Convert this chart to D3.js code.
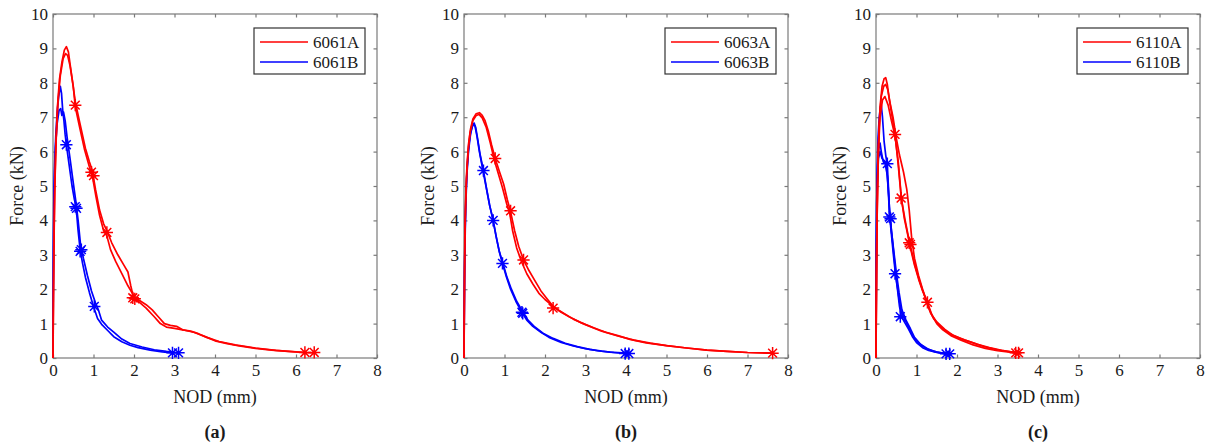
<!DOCTYPE html>
<html lang="en">
  <head>
    <meta charset="UTF-8" />
    <title>Force vs NOD</title>
    <style>
      body { margin: 0; background: #fff; }
      text { font-family: "Liberation Serif", "Times New Roman", serif; fill: #1a1a1a; }
    </style>
  </head>
  <body>
    <svg id="container" width="1215" height="443"></svg>
  </body>
  <script src="https://cdn.jsdelivr.net/npm/d3@7"></script>
  <script>
    // ticks and labels
    const xTicks = [0, 1, 2, 3, 4, 5, 6, 7, 8];
    const yTicks = [0, 1, 2, 3, 4, 5, 6, 7, 8, 9, 10];
    const panelLabels = ["(a)", "(b)", "(c)"];
    const seriesNames = [["6061A", "6061B"], ["6063A", "6063B"], ["6110A", "6110B"]];

    // (a) 6061 curves, [NOD mm, force kN]
    const curves6061A = [
      [[0,0],[0.01,1.5],[0.02,3.2],[0.04,4.8],[0.07,6.2],[0.11,7.3],[0.16,8.1],[0.22,8.6],[0.28,8.95],[0.33,9.05],[0.38,8.9],[0.45,8.3],[0.55,7.45],[0.65,6.9],[0.8,6.1],[0.9,5.7],[0.97,5.45],[1.05,4.9],[1.15,4.3],[1.25,3.9],[1.33,3.7],[1.45,3.35],[1.6,3.0],[1.75,2.7],[1.85,2.5],[1.92,2.1],[1.98,1.8],[2.1,1.7],[2.3,1.55],[2.45,1.4],[2.6,1.2],[2.75,1.0],[2.9,0.95],[3.05,0.92],[3.2,0.82],[3.4,0.78],[3.6,0.7],[3.8,0.6],[4.0,0.5],[4.3,0.42],[4.6,0.35],[5.0,0.28],[5.4,0.23],[5.8,0.19],[6.2,0.16],[6.45,0.15]],
      [[0,0],[0.01,1.8],[0.03,3.8],[0.05,5.2],[0.08,6.4],[0.12,7.4],[0.18,8.2],[0.25,8.7],[0.31,8.85],[0.36,8.8],[0.42,8.5],[0.5,7.9],[0.55,7.3],[0.65,6.75],[0.78,6.05],[0.9,5.55],[0.97,5.3],[1.06,4.7],[1.15,4.15],[1.25,3.7],[1.33,3.55],[1.42,3.15],[1.55,2.8],[1.7,2.45],[1.85,2.1],[2.0,1.8],[2.15,1.6],[2.3,1.45],[2.5,1.2],[2.65,1.0],[2.8,0.9],[3.0,0.86],[3.2,0.82],[3.5,0.74],[3.8,0.6],[4.1,0.48],[4.5,0.38],[5.0,0.29],[5.5,0.22],[6.0,0.18],[6.22,0.16]]
    ];
    const curves6061B = [
      [[0,0],[0.005,1.5],[0.01,3.0],[0.02,4.5],[0.04,5.6],[0.07,6.5],[0.1,7.1],[0.14,7.6],[0.18,7.9],[0.21,7.7],[0.24,7.2],[0.27,6.9],[0.3,6.5],[0.33,6.2],[0.4,5.6],[0.47,5.0],[0.53,4.6],[0.57,4.4],[0.62,3.7],[0.67,3.15],[0.73,2.75],[0.8,2.35],[0.9,1.9],[1.0,1.5],[1.1,1.15],[1.2,0.98],[1.35,0.8],[1.5,0.62],[1.7,0.47],[1.9,0.37],[2.1,0.3],[2.4,0.23],[2.7,0.18],[2.95,0.15]],
      [[0,0],[0.005,1.8],[0.015,3.6],[0.03,5.0],[0.06,6.1],[0.1,6.8],[0.15,7.2],[0.19,7.25],[0.22,7.05],[0.26,7.15],[0.3,6.9],[0.35,6.4],[0.42,5.8],[0.5,5.1],[0.57,4.5],[0.62,4.0],[0.68,3.3],[0.75,2.9],[0.85,2.4],[0.95,1.95],[1.05,1.6],[1.12,1.4],[1.2,1.1],[1.35,0.9],[1.5,0.75],[1.7,0.55],[1.9,0.42],[2.2,0.32],[2.5,0.24],[2.8,0.19],[3.1,0.15]]
    ];
    const stars6061A = [[0.55,7.35],[0.95,5.4],[1.0,5.3],[1.33,3.65],[1.97,1.75],[2.02,1.72],[6.22,0.16],[6.45,0.16]];
    const stars6061B = [[0.33,6.2],[0.55,4.4],[0.58,4.35],[0.67,3.1],[0.7,3.15],[1.02,1.5],[2.95,0.15],[3.1,0.15]];

    // (b) 6063 curves
    const curves6063A = [
      [[0,0],[0.01,2.0],[0.02,3.5],[0.04,4.6],[0.07,5.5],[0.11,6.2],[0.16,6.65],[0.22,6.95],[0.3,7.1],[0.38,7.13],[0.45,7.05],[0.52,6.9],[0.6,6.6],[0.68,6.2],[0.77,5.8],[0.88,5.4],[0.98,5.05],[1.07,4.6],[1.15,4.25],[1.25,3.7],[1.35,3.25],[1.47,2.85],[1.6,2.55],[1.75,2.25],[1.9,1.95],[2.05,1.72],[2.2,1.5],[2.35,1.38],[2.6,1.2],[2.9,1.02],[3.2,0.88],[3.5,0.75],[3.8,0.65],[4.1,0.54],[4.5,0.44],[5.0,0.36],[5.5,0.29],[6.0,0.23],[6.5,0.19],[7.0,0.16],[7.62,0.14]],
      [[0,0],[0.015,2.5],[0.03,4.0],[0.06,5.2],[0.1,6.0],[0.15,6.55],[0.22,6.9],[0.3,7.05],[0.37,7.08],[0.45,6.98],[0.55,6.7],[0.65,6.25],[0.75,5.75],[0.85,5.35],[0.95,4.95],[1.05,4.5],[1.13,4.2],[1.2,3.7],[1.3,3.2],[1.42,2.8],[1.55,2.45],[1.7,2.15],[1.85,1.88],[2.0,1.7],[2.15,1.55],[2.25,1.45],[2.4,1.33],[2.7,1.13],[3.0,0.97],[3.4,0.78],[3.8,0.64],[4.2,0.52],[4.6,0.43],[5.0,0.36],[5.5,0.29],[6.0,0.23],[6.5,0.19],[7.0,0.16],[7.6,0.14]]
    ];
    const curves6063B = [
      [[0,0],[0.008,1.5],[0.02,3.0],[0.04,4.3],[0.07,5.3],[0.11,6.0],[0.16,6.5],[0.21,6.75],[0.25,6.83],[0.29,6.7],[0.34,6.35],[0.4,5.9],[0.48,5.45],[0.56,4.9],[0.64,4.4],[0.72,4.0],[0.8,3.5],[0.88,3.05],[0.95,2.75],[1.05,2.35],[1.15,2.0],[1.28,1.65],[1.43,1.33],[1.55,1.1],[1.7,0.92],[1.9,0.75],[2.1,0.6],[2.4,0.45],[2.7,0.35],[3.0,0.27],[3.3,0.21],[3.6,0.17],[4.0,0.14]],
      [[0,0],[0.01,2.2],[0.025,3.6],[0.05,4.8],[0.08,5.6],[0.12,6.2],[0.17,6.6],[0.22,6.78],[0.27,6.75],[0.32,6.45],[0.38,6.0],[0.46,5.5],[0.55,4.95],[0.63,4.45],[0.71,4.05],[0.79,3.55],[0.87,3.1],[0.95,2.8],[1.06,2.35],[1.17,2.0],[1.3,1.65],[1.45,1.35],[1.58,1.1],[1.75,0.9],[1.95,0.72],[2.2,0.57],[2.5,0.43],[2.8,0.33],[3.1,0.25],[3.4,0.2],[3.7,0.16],[4.07,0.13]]
    ];
    const stars6063A = [[0.77,5.8],[1.15,4.28],[1.47,2.85],[2.2,1.45],[7.62,0.14]];
    const stars6063B = [[0.48,5.45],[0.72,4.0],[0.95,2.75],[1.43,1.33],[1.45,1.3],[3.98,0.13],[4.07,0.13]];

    // (c) 6110 curves
    const curves6110A = [
      [[0,0],[0.01,2.5],[0.03,4.5],[0.06,6.2],[0.1,7.3],[0.15,7.9],[0.2,8.12],[0.24,8.15],[0.28,7.95],[0.33,7.5],[0.4,7.0],[0.47,6.5],[0.55,5.6],[0.62,4.7],[0.7,4.05],[0.78,3.6],[0.85,3.2],[0.95,2.7],[1.05,2.3],[1.15,1.95],[1.27,1.62],[1.38,1.25],[1.5,1.0],[1.65,0.82],[1.85,0.65],[2.1,0.52],[2.4,0.38],[2.7,0.28],[3.0,0.21],[3.3,0.17],[3.45,0.15]],
      [[0,0],[0.015,3.0],[0.04,5.2],[0.08,6.8],[0.13,7.6],[0.19,7.9],[0.24,7.95],[0.29,7.8],[0.35,7.4],[0.42,7.0],[0.5,6.4],[0.58,5.9],[0.68,5.4],[0.76,4.9],[0.82,4.3],[0.88,3.5],[0.95,2.9],[1.05,2.4],[1.15,2.0],[1.25,1.65],[1.35,1.3],[1.5,1.05],[1.7,0.83],[1.9,0.66],[2.2,0.52],[2.5,0.4],[2.8,0.3],[3.1,0.22],[3.52,0.15]],
      [[0,0],[0.02,3.5],[0.05,5.8],[0.1,7.0],[0.16,7.5],[0.22,7.6],[0.3,7.35],[0.38,6.9],[0.47,6.45],[0.55,5.7],[0.63,4.6],[0.72,4.0],[0.83,3.35],[0.95,2.75],[1.07,2.25],[1.2,1.8],[1.3,1.45],[1.42,1.15],[1.6,0.9],[1.8,0.72],[2.1,0.56],[2.4,0.44],[2.7,0.32],[3.0,0.24],[3.48,0.15]]
    ];
    const curves6110B = [
      [[0,0],[0.005,2.0],[0.015,4.0],[0.03,5.5],[0.05,6.4],[0.08,7.0],[0.11,7.3],[0.13,7.35],[0.16,7.0],[0.2,6.3],[0.24,5.9],[0.28,5.6],[0.31,4.9],[0.34,4.1],[0.38,3.6],[0.43,3.0],[0.48,2.45],[0.53,2.0],[0.58,1.5],[0.62,1.25],[0.7,1.05],[0.8,0.85],[0.9,0.62],[1.0,0.45],[1.15,0.3],[1.3,0.22],[1.5,0.16],[1.73,0.12]],
      [[0,0],[0.005,2.5],[0.015,4.5],[0.04,5.6],[0.07,6.1],[0.1,6.25],[0.13,6.0],[0.18,5.7],[0.25,5.65],[0.3,5.0],[0.34,4.2],[0.4,3.5],[0.45,2.9],[0.5,2.3],[0.56,1.8],[0.62,1.35],[0.7,1.15],[0.8,0.9],[0.9,0.65],[1.02,0.47],[1.2,0.3],[1.4,0.2],[1.6,0.15],[1.82,0.12]],
      [[0,0],[0.01,3.0],[0.03,5.0],[0.06,5.8],[0.1,6.0],[0.15,5.8],[0.22,5.7],[0.28,5.3],[0.33,4.3],[0.38,3.7],[0.44,3.1],[0.5,2.5],[0.57,1.9],[0.64,1.4],[0.74,1.1],[0.85,0.85],[0.95,0.6],[1.1,0.4],[1.3,0.25],[1.5,0.17],[1.78,0.12]]
    ];
    const stars6110A = [[0.47,6.5],[0.62,4.65],[0.82,3.35],[0.85,3.3],[1.27,1.62],[3.45,0.15],[3.52,0.15]];
    const stars6110B = [[0.28,5.65],[0.33,4.1],[0.36,4.05],[0.47,2.45],[0.6,1.2],[1.73,0.12],[1.82,0.12]];

    const panels = [
      { left: 53, a: curves6061A, b: curves6061B, sa: stars6061A, sb: stars6061B },
      { left: 464, a: curves6063A, b: curves6063B, sa: stars6063A, sb: stars6063B },
      { left: 876, a: curves6110A, b: curves6110B, sa: stars6110A, sb: stars6110B }
    ];

    const plotW = 324, plotTop = 14, plotBottom = 358;
    const red = "#ff0000", blue = "#0000ff", axisColor = "#7a7a7a";

    // MATLAB style '*' marker
    const asterisk = {
      draw(ctx, size) {
        const r = Math.sqrt(size) / 2, d = r * 0.72;
        ctx.moveTo(-r, 0); ctx.lineTo(r, 0);
        ctx.moveTo(0, -r); ctx.lineTo(0, r);
        ctx.moveTo(-d, -d); ctx.lineTo(d, d);
        ctx.moveTo(-d, d); ctx.lineTo(d, -d);
      }
    };

    const svg = d3.select("#container");

    panels.forEach((p, i) => {
      const x = d3.scaleLinear().domain([0, 8]).range([p.left, p.left + plotW]);
      const y = d3.scaleLinear().domain([0, 10]).range([plotBottom, plotTop]);
      const g = svg.append("g");

      // frame
      g.append("rect")
        .attr("x", p.left).attr("y", plotTop)
        .attr("width", plotW).attr("height", plotBottom - plotTop)
        .attr("fill", "none").attr("stroke", axisColor).attr("stroke-width", 1.2);

      const styleAxis = (sel) => {
        sel.select(".domain").remove();
        sel.selectAll(".tick line").attr("stroke", axisColor).attr("stroke-width", 1.2);
        sel.selectAll(".tick text")
          .style("font-family", '"Liberation Serif", "Times New Roman", serif')
          .style("font-size", "17px").attr("fill", "#1a1a1a");
      };

      g.append("g").attr("transform", `translate(0,${plotBottom})`)
        .call(d3.axisBottom(x).tickValues(xTicks).tickSizeInner(-3.5).tickSizeOuter(0).tickPadding(6))
        .call(styleAxis);
      g.append("g").attr("transform", `translate(0,${plotTop})`)
        .call(d3.axisTop(x).tickValues(xTicks).tickSizeInner(-3.5).tickSizeOuter(0).tickFormat(""))
        .call(styleAxis);
      g.append("g").attr("transform", `translate(${p.left},0)`)
        .call(d3.axisLeft(y).tickValues(yTicks).tickSizeInner(-3.5).tickSizeOuter(0).tickPadding(5))
        .call(styleAxis);
      g.append("g").attr("transform", `translate(${p.left + plotW},0)`)
        .call(d3.axisRight(y).tickValues(yTicks).tickSizeInner(-3.5).tickSizeOuter(0).tickFormat(""))
        .call(styleAxis);

      const line = d3.line().x(d => x(d[0])).y(d => y(d[1]));

      const drawSet = (curves, stars, color) => {
        g.selectAll(null).data(curves).enter().append("path")
          .attr("d", line).attr("fill", "none")
          .attr("stroke", color).attr("stroke-width", 1.7).attr("stroke-linejoin", "round");
        g.selectAll(null).data(stars).enter().append("path")
          .attr("d", d3.symbol(asterisk, 150))
          .attr("transform", d => `translate(${x(d[0])},${y(d[1])})`)
          .attr("fill", "none").attr("stroke", color).attr("stroke-width", 1.5);
      };
      drawSet(p.b, p.sb, blue);
      drawSet(p.a, p.sa, red);

      // axis titles
      g.append("text")
        .attr("transform", `translate(${p.left - 36},${(plotTop + plotBottom) / 2}) rotate(-90)`)
        .attr("text-anchor", "middle").attr("dy", "0.35em")
        .style("font-size", "18px").text("Force (kN)");
      g.append("text")
        .attr("x", p.left + plotW / 2).attr("y", 403)
        .attr("text-anchor", "middle")
        .style("font-size", "18px").text("NOD (mm)");
      g.append("text")
        .attr("x", p.left + plotW / 2).attr("y", 438)
        .attr("text-anchor", "middle").attr("font-weight", "bold")
        .style("font-size", "18px").text(panelLabels[i]);

      // legend
      const lx = p.left + plotW - 12 - 111, ly = plotTop + 14;
      const leg = g.append("g").attr("transform", `translate(${lx},${ly})`);
      leg.append("rect").attr("width", 111).attr("height", 46)
        .attr("fill", "#fff").attr("stroke", "#333").attr("stroke-width", 1.2);
      [red, blue].forEach((c, k) => {
        const ry = 14 + k * 20;
        leg.append("line").attr("x1", 6).attr("x2", 54).attr("y1", ry).attr("y2", ry)
          .attr("stroke", c).attr("stroke-width", 1.7);
        leg.append("text").attr("x", 59).attr("y", ry).attr("dy", "0.35em")
          .style("font-size", "17px").text(seriesNames[i][k]);
      });
    });
  </script>
</html>
